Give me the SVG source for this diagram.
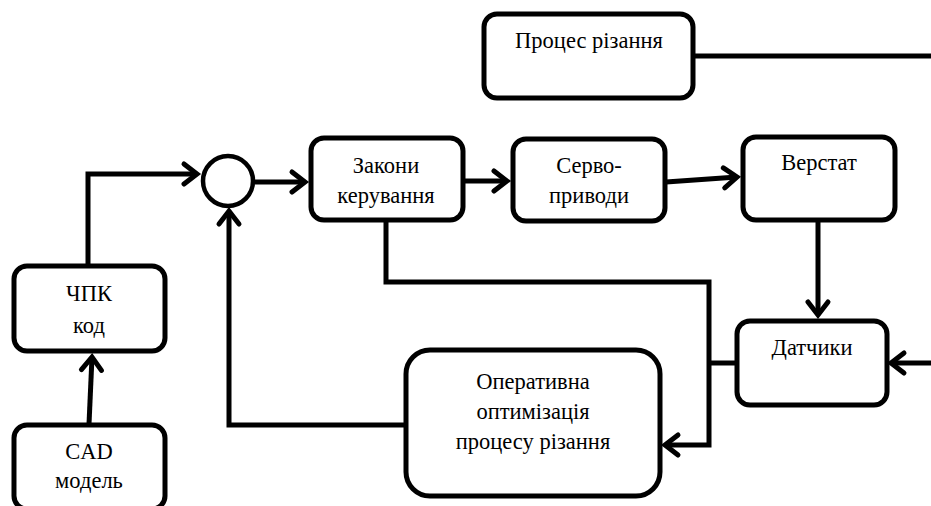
<svg xmlns="http://www.w3.org/2000/svg" width="931" height="506" viewBox="0 0 931 506" font-family="'Liberation Serif', 'DejaVu Serif', serif">
<style>
.box{fill:#fff;stroke:#000;stroke-width:5}
.t{font-family:'Liberation Serif','DejaVu Serif',serif;font-size:22.5px;fill:#000;text-anchor:middle}
.c{fill:none;stroke:#000;stroke-width:5;stroke-linejoin:miter}
</style>
<defs>
<marker id="ah" markerUnits="userSpaceOnUse" viewBox="-16 -12 20 24" refX="0" refY="0" markerWidth="20" markerHeight="24" orient="auto" overflow="visible">
<path d="M -13 -10 L 0 0 L -13 10" fill="none" stroke="#000" stroke-width="5" stroke-linecap="round" stroke-linejoin="miter"/>
</marker>
</defs>
<g id="connectors">
<path class="c" d="M 694 56 L 931 56"/>
<path class="c" d="M 88 266 L 88 174 L 197 174" marker-end="url(#ah)"/>
<path class="c" d="M 255 182 L 305 182" marker-end="url(#ah)"/>
<path class="c" d="M 463 181 L 507 181" marker-end="url(#ah)"/>
<path class="c" d="M 666 182 L 737 177" marker-end="url(#ah)"/>
<path class="c" d="M 818 221 L 818 315" marker-end="url(#ah)"/>
<path class="c" d="M 89 424 L 92 357" marker-end="url(#ah)"/>
<path class="c" d="M 406 425 L 229 425 L 229 211" marker-end="url(#ah)"/>
<path class="c" d="M 386 221 L 386 282 L 709 282 L 709 445 L 665 445" marker-end="url(#ah)"/>
<path class="c" d="M 737 363 L 709 363"/>
<path class="c" d="M 931 363 L 891 363" marker-end="url(#ah)"/>
</g>
<g id="proces">
<rect class="box" x="484" y="14" width="209" height="84" rx="13"/>
<text class="t" x="589" y="48">Процес різання</text>
</g>
<g id="sum">
<circle cx="228" cy="181" r="25" fill="#fff" stroke="#000" stroke-width="4.5"/>
</g>
<g id="zakony">
<rect class="box" x="311" y="138" width="152" height="82" rx="13"/>
<text class="t" x="386" y="173">Закони</text>
<text class="t" x="386" y="203">керування</text>
</g>
<g id="servo">
<rect class="box" x="513" y="139" width="152" height="82" rx="13"/>
<text class="t" x="589" y="173">Серво-</text>
<text class="t" x="589" y="203">приводи</text>
</g>
<g id="verstat">
<rect class="box" x="743" y="137" width="152" height="83" rx="13"/>
<text class="t" x="819" y="170">Верстат</text>
</g>
<g id="datchyky">
<rect class="box" x="737" y="321" width="150" height="84" rx="13"/>
<text class="t" x="812" y="355">Датчики</text>
</g>
<g id="optym">
<rect class="box" x="406" y="350" width="254" height="146" rx="24"/>
<text class="t" x="533" y="389">Оперативна</text>
<text class="t" x="533" y="419">оптимізація</text>
<text class="t" x="533" y="449">процесу різання</text>
</g>
<g id="chpk">
<rect class="box" x="14" y="266" width="151" height="85" rx="13"/>
<text class="t" x="89" y="301">ЧПК</text>
<text class="t" x="89" y="333">код</text>
</g>
<g id="cad">
<rect class="box" x="14" y="425" width="151" height="84" rx="13"/>
<text class="t" x="89" y="459">CAD</text>
<text class="t" x="89" y="488">модель</text>
</g>
</svg>
